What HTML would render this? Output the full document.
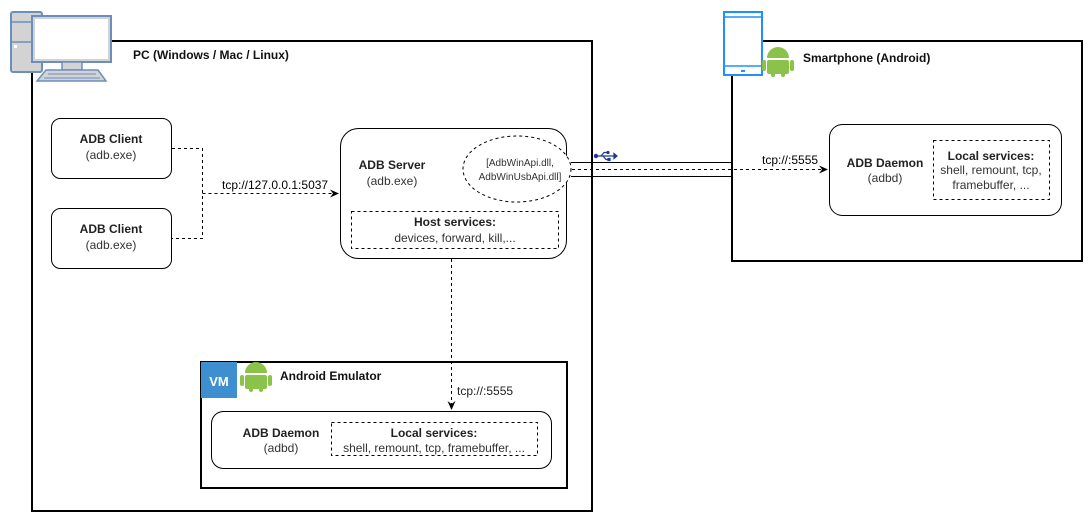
<!DOCTYPE html>
<html><head><meta charset="utf-8"><style>
html,body{margin:0;padding:0;background:#fff;}
svg{display:block;font-family:"Liberation Sans",Arial,sans-serif;}
</style></head><body>
<svg width="1092" height="522" viewBox="0 0 1092 522" xmlns="http://www.w3.org/2000/svg">
<defs>
<marker id="ar" markerWidth="10" markerHeight="10" refX="8" refY="5" orient="auto" markerUnits="userSpaceOnUse">
<path d="M0,1 L9,5 L0,9 L3,5 Z" fill="#000"/>
</marker>
</defs>
<rect x="32" y="41" width="560" height="470" fill="none" stroke="#000" stroke-width="2"/>
<rect x="732" y="41" width="350" height="220" fill="none" stroke="#000" stroke-width="2"/>
<rect x="201" y="362" width="366" height="126" fill="none" stroke="#000" stroke-width="2"/>
<rect x="11" y="12" width="31" height="60" rx="2" fill="#d3d3d3" stroke="#6c8ebf" stroke-width="2"/>
<line x1="12" y1="22" x2="41" y2="22" stroke="#6c8ebf" stroke-width="1.5"/>
<line x1="12" y1="42" x2="41" y2="42" stroke="#6c8ebf" stroke-width="1.5"/>
<rect x="14" y="45" width="3" height="3" fill="#fff"/>
<rect x="32" y="16" width="79" height="46" fill="#d3d3d3" stroke="#6c8ebf" stroke-width="2"/>
<rect x="35" y="19" width="73" height="40" fill="#fff"/>
<rect x="62" y="62" width="20" height="8" fill="#d3d3d3" stroke="#6c8ebf" stroke-width="1.5"/>
<path d="M46,70 L98,70 L106,81 L37,81 Z" fill="#d3d3d3" stroke="#6c8ebf" stroke-width="1.5"/>
<line x1="48" y1="74" x2="96" y2="74" stroke="#6c8ebf"/>
<line x1="44" y1="78" x2="100" y2="78" stroke="#6c8ebf"/>
<text x="133" y="59" font-size="12" font-weight="bold" fill="#111">PC (Windows / Mac / Linux)</text>
<rect x="724" y="12" width="38" height="63" fill="#fff" stroke="#1e90ff" stroke-width="2"/>
<line x1="724" y1="17" x2="762" y2="17" stroke="#1e90ff" stroke-width="1.5"/>
<line x1="724" y1="66" x2="762" y2="66" stroke="#1e90ff" stroke-width="1.5"/>
<rect x="741" y="70" width="4" height="2" fill="#1e90ff"/>
<g fill="#8bc34a">
<path d="M767,58 a11,11 0 0 1 22,0 z"/>
<rect x="767" y="60" width="22" height="14" rx="2"/>
<rect x="762" y="60" width="4" height="11" rx="2"/>
<rect x="790" y="60" width="4" height="11" rx="2"/>
<rect x="771" y="70" width="4" height="7" rx="2"/>
<rect x="781" y="70" width="4" height="7" rx="2"/>
</g>
<g fill="#8bc34a" transform="translate(-522,315)">
<path d="M767,58 a11,11 0 0 1 22,0 z"/>
<rect x="767" y="60" width="22" height="14" rx="2"/>
<rect x="762" y="60" width="4" height="11" rx="2"/>
<rect x="790" y="60" width="4" height="11" rx="2"/>
<rect x="771" y="70" width="4" height="7" rx="2"/>
<rect x="781" y="70" width="4" height="7" rx="2"/>
</g>
<text x="803" y="62" font-size="12" font-weight="bold" fill="#111">Smartphone (Android)</text>
<rect x="201" y="362" width="36" height="36" fill="#3d8fcf"/>
<text x="219" y="386" font-size="13" font-weight="bold" fill="#fff" text-anchor="middle">VM</text>
<text x="280" y="380" font-size="12" font-weight="bold" fill="#111">Android Emulator</text>
<rect x="51.5" y="118.5" width="120" height="60" rx="9" fill="#fff" stroke="#000"/>
<text x="111" y="143" font-size="12" font-weight="bold" text-anchor="middle" fill="#222">ADB Client</text>
<text x="111" y="159" font-size="12" text-anchor="middle" fill="#333">(adb.exe)</text>
<rect x="51.5" y="208.5" width="120" height="60" rx="9" fill="#fff" stroke="#000"/>
<text x="111" y="233" font-size="12" font-weight="bold" text-anchor="middle" fill="#222">ADB Client</text>
<text x="111" y="249" font-size="12" text-anchor="middle" fill="#333">(adb.exe)</text>
<path d="M172,148.5 H202.5 V238.5 H172" fill="none" stroke="#000" stroke-dasharray="3,3"/>
<path d="M202.5,193.5 H338" fill="none" stroke="#000" stroke-dasharray="3,3" marker-end="url(#ar)"/>
<text x="222" y="189" font-size="12">tcp://127.0.0.1:5037</text>
<rect x="340.5" y="128.5" width="226" height="130" rx="18" fill="#fff" stroke="#000"/>
<text x="392" y="169" font-size="12" font-weight="bold" text-anchor="middle" fill="#222">ADB Server</text>
<text x="392" y="185" font-size="12" text-anchor="middle" fill="#333">(adb.exe)</text>
<ellipse cx="517" cy="169" rx="54" ry="33" fill="#fff" stroke="#000" stroke-dasharray="3,3"/>
<text x="520" y="166" font-size="10" text-anchor="middle" fill="#333">[AdbWinApi.dll,</text>
<text x="520" y="180" font-size="10" text-anchor="middle" fill="#333">AdbWinUsbApi.dll]</text>
<rect x="351.5" y="211.5" width="207" height="37" fill="none" stroke="#000" stroke-dasharray="3,3"/>
<text x="455" y="226" font-size="12" font-weight="bold" text-anchor="middle" fill="#222">Host services:</text>
<text x="455" y="242" font-size="12" text-anchor="middle" fill="#333">devices, forward, kill,...</text>
<line x1="571" y1="162.5" x2="732" y2="162.5" stroke="#000"/>
<line x1="571" y1="176.5" x2="732" y2="176.5" stroke="#000"/>
<path d="M572,169.5 H827" fill="none" stroke="#000" stroke-dasharray="3,3" marker-end="url(#ar)"/>
<g stroke="#1a3a9a" fill="#1a3a9a" stroke-width="1.2">
<line x1="596" y1="156" x2="614" y2="156"/>
<circle cx="596" cy="156" r="1.6"/>
<path d="M614,153.5 L617,156 L614,158.5 Z"/>
<path d="M601,156 L604,152.5 H608" fill="none"/>
<path d="M603,156 L606,159.5 H609" fill="none"/>
<circle cx="608" cy="152.5" r="1"/>
<rect x="608" y="158.5" width="2" height="2"/>
</g>
<text x="762" y="164" font-size="12">tcp://:5555</text>
<rect x="829.5" y="124.5" width="232" height="91" rx="13" fill="#fff" stroke="#000"/>
<text x="885" y="167" font-size="12" font-weight="bold" text-anchor="middle" fill="#222">ADB Daemon</text>
<text x="885" y="182" font-size="12" text-anchor="middle" fill="#333">(adbd)</text>
<rect x="933.5" y="140.5" width="116" height="59" fill="none" stroke="#000" stroke-dasharray="3,3"/>
<text x="991" y="160" font-size="12" font-weight="bold" text-anchor="middle" fill="#222">Local services:</text>
<text x="991" y="174" font-size="12" text-anchor="middle" fill="#333">shell, remount, tcp,</text>
<text x="991" y="189" font-size="12" text-anchor="middle" fill="#333">framebuffer, ...</text>
<path d="M451.5,259 V409" fill="none" stroke="#000" stroke-dasharray="3,3" marker-end="url(#ar)"/>
<text x="457" y="395" font-size="12" fill="#222">tcp://:5555</text>
<rect x="211.5" y="411.5" width="340" height="57" rx="12" fill="#fff" stroke="#000"/>
<text x="281" y="437" font-size="12" font-weight="bold" text-anchor="middle" fill="#222">ADB Daemon</text>
<text x="281" y="452" font-size="12" text-anchor="middle" fill="#333">(adbd)</text>
<rect x="331.5" y="422.5" width="206" height="33" fill="none" stroke="#000" stroke-dasharray="3,3"/>
<text x="434" y="437" font-size="12" font-weight="bold" text-anchor="middle" fill="#222">Local services:</text>
<text x="434" y="452" font-size="12" text-anchor="middle" fill="#333">shell, remount, tcp, framebuffer, ...</text>
</svg>
</body></html>
